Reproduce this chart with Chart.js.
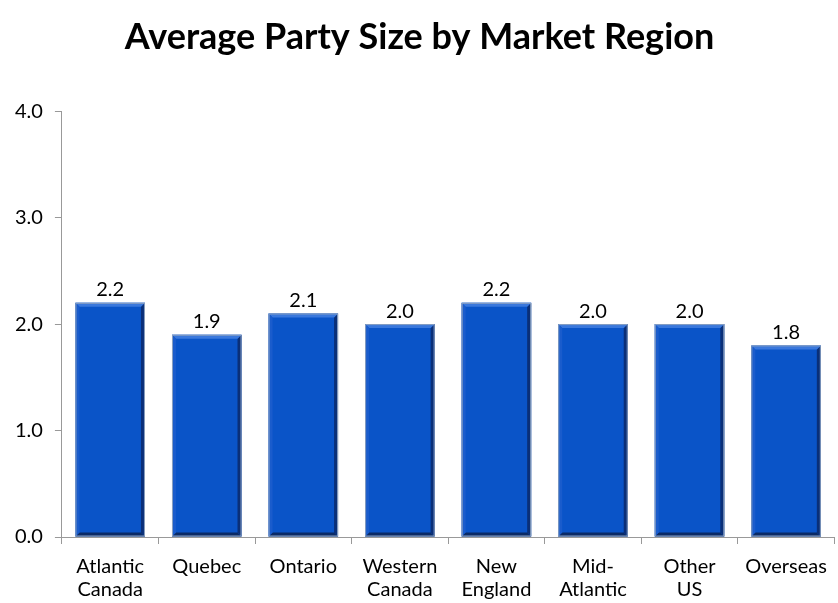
<!DOCTYPE html>
<html>
<head>
<meta charset="utf-8">
<script src="https://cdn.jsdelivr.net/npm/chart.js@4/dist/chart.umd.min.js"></script>
<style>
  html, body { margin: 0; padding: 0; background: #fff; }
  #c { display: block; }
</style>
</head>
<body>
<canvas id="c" width="838" height="603"></canvas>
<script>
// Average party size per market region
const regions = [
  ["Atlantic", "Canada"], "Quebec", "Ontario", ["Western", "Canada"],
  ["New", "England"], ["Mid-", "Atlantic"], ["Other", "US"], "Overseas"
];
const partySize = [2.2, 1.9, 2.1, 2.0, 2.2, 2.0, 2.0, 1.8];
const yTicks = [0, 1, 2, 3, 4];

const FONT = "Lato, 'Open Sans', sans-serif";

// bevel look: dark rim on right/bottom, light stripe on top/left
const bevel = {
  id: "bevel",
  afterDatasetsDraw(chart) {
    const ctx = chart.ctx;
    chart.getDatasetMeta(0).data.forEach(bar => {
      const l = bar.x - bar.width / 2, r = bar.x + bar.width / 2;
      const t = bar.y, b = bar.base, e = 4;
      ctx.save();
      ctx.fillStyle = "#0a2f78";   // right
      ctx.beginPath();
      ctx.moveTo(r, t); ctx.lineTo(r, b); ctx.lineTo(r - e, b - e); ctx.lineTo(r - e, t + e); ctx.closePath(); ctx.fill();
      ctx.fillStyle = "#0a2a66";   // bottom
      ctx.beginPath();
      ctx.moveTo(l, b); ctx.lineTo(r, b); ctx.lineTo(r - e, b - e); ctx.lineTo(l + e, b - e); ctx.closePath(); ctx.fill();
      ctx.fillStyle = "#3a78dc";   // top
      ctx.beginPath();
      ctx.moveTo(l, t); ctx.lineTo(r, t); ctx.lineTo(r - e, t + e); ctx.lineTo(l + e, t + e); ctx.closePath(); ctx.fill();
      ctx.fillStyle = "#1a5ccc";   // left
      ctx.beginPath();
      ctx.moveTo(l, t); ctx.lineTo(l, b); ctx.lineTo(l + e, b - e); ctx.lineTo(l + e, t + e); ctx.closePath(); ctx.fill();
      ctx.strokeStyle = "#8aa0c0";
      ctx.lineWidth = 1;
      ctx.strokeRect(l + 0.5, t + 0.5, bar.width - 1, b - t - 1);
      ctx.restore();
    });
  }
};

const valueLabels = {
  id: "valueLabels",
  afterDatasetsDraw(chart) {
    const ctx = chart.ctx;
    ctx.save();
    ctx.font = "20px " + FONT;
    ctx.fillStyle = "#000";
    ctx.textAlign = "center";
    ctx.textBaseline = "bottom";
    chart.getDatasetMeta(0).data.forEach((bar, i) => {
      ctx.fillText(partySize[i].toFixed(1), bar.x, bar.y - 3);
    });
    ctx.restore();
  }
};

new Chart(document.getElementById("c"), {
  type: "bar",
  data: {
    labels: regions,
    datasets: [{
      data: partySize,
      backgroundColor: "#0a54c8",
      borderWidth: 0,
      barPercentage: 0.72,
      categoryPercentage: 1
    }]
  },
  options: {
    responsive: false,
    animation: false,
    layout: { padding: { left: 3, right: 2, top: 0, bottom: 0 } },
    plugins: {
      legend: { display: false },
      tooltip: { enabled: false },
      title: {
        display: true,
        text: "Average Party Size by Market Region",
        color: "#000",
        font: { family: FONT, size: 36, weight: "bold" },
        padding: { top: 16, bottom: 52 }
      }
    },
    scales: {
      x: {
        afterFit: s => { s.height = 66; },
        grid: { display: true, drawOnChartArea: false, offset: true, color: "#999", tickLength: 7 },
        border: { color: "#999" },
        ticks: { color: "#000", font: { family: FONT, size: 20, lineHeight: 1.15 }, padding: 11, maxRotation: 0, autoSkip: false }
      },
      y: {
        min: 0, max: 4,
        afterBuildTicks: s => { s.ticks = yTicks.map(v => ({ value: v })); },
        grid: { display: true, drawOnChartArea: false, color: "#999", tickLength: 7 },
        border: { color: "#999" },
        ticks: { color: "#000", font: { family: FONT, size: 20 }, padding: 12, callback: v => v.toFixed(1) }
      }
    }
  },
  plugins: [bevel, valueLabels]
});
</script>
</body>
</html>
